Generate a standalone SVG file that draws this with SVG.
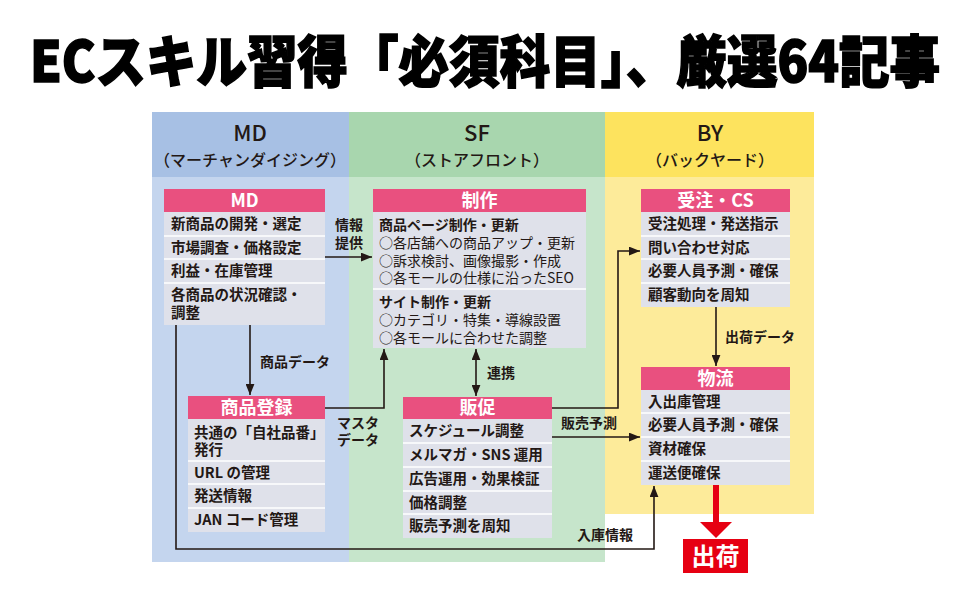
<svg xmlns="http://www.w3.org/2000/svg" width="970" height="600" viewBox="0 0 970 600">
<defs>
<style>
text{font-family:"Noto Sans CJK JP","Noto Sans",sans-serif;fill:#231815}
.ttlT{font-size:52px;font-weight:900;fill:#000;stroke:#000;stroke-width:1.5}
.hd{font-size:22px;font-weight:500;text-anchor:middle}
.sub{font-size:16px;font-weight:500;text-anchor:middle}
.bt{font-size:18px;font-weight:700;fill:#fff;text-anchor:middle}
.it{font-size:14.5px;font-weight:700}
.sm{font-size:14px;font-weight:400}
.sb{font-size:14px;font-weight:700}
.lb{font-size:14px;font-weight:700}
.tt{fill:#e9507f}
.bd{fill:#dfe1ea}
.sep{stroke:#fff;stroke-width:1.5}
.cn{stroke:#231815;stroke-width:1.6;fill:none}
</style>
<marker id="ah" viewBox="0 0 10 8" refX="10" refY="4" markerWidth="11" markerHeight="9" markerUnits="userSpaceOnUse" orient="auto-start-reverse">
<path d="M0,0 L10,4 L0,8 z" fill="#231815"/>
</marker>
</defs>
<rect width="970" height="600" fill="#fff"/>
<text class="ttlT" transform="translate(485,82) scale(1,1.08)" x="0" y="0" text-anchor="middle" textLength="910" lengthAdjust="spacingAndGlyphs">ECスキル習得「必須科目」、厳選64記事</text>

<g id="col-md">
<rect x="152" y="112" width="197" height="65" fill="#a7c0e4"/>
<rect x="152" y="177" width="197" height="385" fill="#c4d5ee"/>
<text class="hd" x="250" y="141">MD</text>
<text class="sub" x="250" y="166">（マーチャンダイジング）</text>
</g>
<g id="col-sf">
<rect x="349" y="112" width="256" height="65" fill="#a8d6ae"/>
<rect x="349" y="177" width="256" height="385" fill="#c6e5cb"/>
<text class="hd" x="477" y="141">SF</text>
<text class="sub" x="477" y="166">（ストアフロント）</text>
</g>
<g id="col-by">
<rect x="605" y="112" width="209" height="65" fill="#fde35e"/>
<rect x="605" y="177" width="209" height="337" fill="#fdeb9a"/>
<text class="hd" x="710" y="141">BY</text>
<text class="sub" x="710" y="166">（バックヤード）</text>
</g>

<g id="connectors">
<line class="cn" x1="325" y1="257" x2="372" y2="257" marker-end="url(#ah)"/>
<line class="cn" x1="250" y1="325" x2="250" y2="395" marker-end="url(#ah)"/>
<polyline class="cn" points="325,408 384,408 384,349" marker-end="url(#ah)"/>
<line class="cn" x1="476" y1="349" x2="476" y2="396" marker-start="url(#ah)" marker-end="url(#ah)"/>
<polyline class="cn" points="552,408 618,408 618,251 640,251" marker-end="url(#ah)"/>
<line class="cn" x1="552" y1="437" x2="640" y2="437" marker-end="url(#ah)"/>
<line class="cn" x1="716" y1="307" x2="716" y2="366" marker-end="url(#ah)"/>
<polyline class="cn" points="176,325 176,549 654,549 654,486" marker-end="url(#ah)"/>
<rect x="713" y="485" width="6" height="38" fill="#e60012"/>
<polygon points="700,522 732,522 716,538" fill="#e60012"/>
<text class="lb" x="335" y="230">情報</text>
<text class="lb" x="335" y="248">提供</text>
<text class="lb" x="260" y="367">商品データ</text>
<text class="lb" x="337" y="428">マスタ</text>
<text class="lb" x="337" y="445">データ</text>
<text class="lb" x="487" y="378">連携</text>
<text class="lb" x="561" y="428">販売予測</text>
<text class="lb" x="725" y="342">出荷データ</text>
<text class="lb" x="577" y="540">入庫情報</text>
</g>

<g id="node-md">
<rect class="tt" x="164" y="189" width="161" height="23"/>
<rect class="bd" x="164" y="212" width="161" height="113"/>
<line class="sep" x1="164" y1="236" x2="325" y2="236"/>
<line class="sep" x1="164" y1="259" x2="325" y2="259"/>
<line class="sep" x1="164" y1="283" x2="325" y2="283"/>
<text class="bt" x="244.5" y="207">MD</text>
<text class="it" x="171" y="229">新商品の開発・選定</text>
<text class="it" x="171" y="253">市場調査・価格設定</text>
<text class="it" x="171" y="276">利益・在庫管理</text>
<text class="it" x="171" y="300">各商品の状況確認・</text>
<text class="it" x="171" y="318">調整</text>
</g>

<g id="node-touroku">
<rect class="tt" x="188" y="396" width="137" height="23"/>
<rect class="bd" x="188" y="419" width="137" height="113"/>
<line class="sep" x1="188" y1="461" x2="325" y2="461"/>
<line class="sep" x1="188" y1="484" x2="325" y2="484"/>
<line class="sep" x1="188" y1="508" x2="325" y2="508"/>
<text class="bt" x="256.5" y="414">商品登録</text>
<text class="it" x="194" y="438">共通の「自社品番」</text>
<text class="it" x="194" y="455">発行</text>
<text class="it" x="194" y="478">URL の管理</text>
<text class="it" x="194" y="501">発送情報</text>
<text class="it" x="194" y="525">JAN コード管理</text>
</g>

<g id="node-seisaku">
<rect class="tt" x="373" y="189" width="213" height="23"/>
<rect class="bd" x="373" y="212" width="213" height="136"/>
<line class="sep" x1="373" y1="289" x2="586" y2="289"/>
<text class="bt" x="479.5" y="207">制作</text>
<text class="sb" x="379" y="230">商品ページ制作・更新</text>
<text class="sm" x="379" y="248">○各店舗への商品アップ・更新</text>
<text class="sm" x="379" y="266">○訴求検討、画像撮影・作成</text>
<text class="sm" x="379" y="283">○各モールの仕様に沿ったSEO</text>
<text class="sb" x="379" y="307">サイト制作・更新</text>
<text class="sm" x="379" y="325">○カテゴリ・特集・導線設置</text>
<text class="sm" x="379" y="343">○各モールに合わせた調整</text>
</g>

<g id="node-hansoku">
<rect class="tt" x="403" y="397" width="149" height="22"/>
<rect class="bd" x="403" y="419" width="149" height="119"/>
<line class="sep" x1="403" y1="443" x2="552" y2="443"/>
<line class="sep" x1="403" y1="467" x2="552" y2="467"/>
<line class="sep" x1="403" y1="491" x2="552" y2="491"/>
<line class="sep" x1="403" y1="514" x2="552" y2="514"/>
<text class="bt" x="477.5" y="414">販促</text>
<text class="it" x="409" y="436">スケジュール調整</text>
<text class="it" x="409" y="460">メルマガ・SNS 運用</text>
<text class="it" x="409" y="484">広告運用・効果検証</text>
<text class="it" x="409" y="508">価格調整</text>
<text class="it" x="409" y="531">販売予測を周知</text>
</g>

<g id="node-juchu">
<rect class="tt" x="641" y="189" width="149" height="23"/>
<rect class="bd" x="641" y="212" width="149" height="95"/>
<line class="sep" x1="641" y1="236" x2="790" y2="236"/>
<line class="sep" x1="641" y1="259" x2="790" y2="259"/>
<line class="sep" x1="641" y1="283" x2="790" y2="283"/>
<text class="bt" x="715.5" y="207">受注・CS</text>
<text class="it" x="648" y="229">受注処理・発送指示</text>
<text class="it" x="648" y="253">問い合わせ対応</text>
<text class="it" x="648" y="276">必要人員予測・確保</text>
<text class="it" x="648" y="300">顧客動向を周知</text>
</g>

<g id="node-butsuryu">
<rect class="tt" x="641" y="367" width="149" height="23"/>
<rect class="bd" x="641" y="390" width="149" height="95"/>
<line class="sep" x1="641" y1="413" x2="790" y2="413"/>
<line class="sep" x1="641" y1="437" x2="790" y2="437"/>
<line class="sep" x1="641" y1="461" x2="790" y2="461"/>
<text class="bt" x="715.5" y="385">物流</text>
<text class="it" x="648" y="407">入出庫管理</text>
<text class="it" x="648" y="430">必要人員予測・確保</text>
<text class="it" x="648" y="454">資材確保</text>
<text class="it" x="648" y="478">運送便確保</text>
</g>

<g id="node-shukka">
<rect x="683" y="539" width="65" height="34" fill="#e60012"/>
<text x="715.5" y="565" text-anchor="middle" style="font-size:24px;font-weight:700;fill:#fff">出荷</text>
</g>
</svg>
